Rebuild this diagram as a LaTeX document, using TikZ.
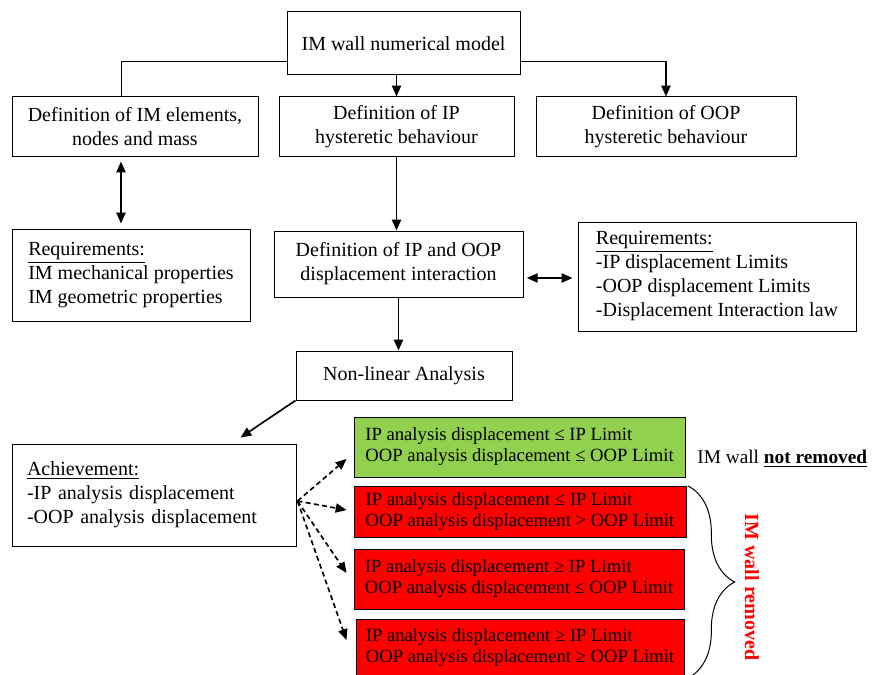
\documentclass[tikz,border=0pt]{standalone}
\usepackage{fontspec}
\setmainfont{Liberation Serif}
\usetikzlibrary{arrows.meta,calc,decorations.pathreplacing}
\definecolor{keepgreen}{HTML}{92D050}
\definecolor{dropred}{HTML}{FF0000}
\begin{document}
\begin{tikzpicture}[x=0.6pt, y=-0.6pt,
    every node/.style={font=\fontsize{12}{14.4}\selectfont},
    box/.style 2 args={draw, line width=0.6pt, minimum width=#1, minimum height=#2, align=center},
    case/.style={font=\fontsize{11.2}{12.6}\selectfont, align=left},
    arr/.style={-{Triangle[length=6.5pt,width=5.5pt]}, line width=1pt},
    darr/.style={{Triangle[length=6.5pt,width=5.5pt]}-{Triangle[length=6.5pt,width=5.5pt]}, line width=1pt},
    dasharr/.style={arr, dash pattern=on 3pt off 2pt}]
    \useasboundingbox (0,0) rectangle (872,675);

    % Model and the three definitions
    \node[box={139.8pt}{37.8pt}] (model) at (403.5,43.5) {IM wall numerical model};
    \node[box={147.6pt}{35.4pt}] (defim) at (135,126.5) {Definition of IM elements,\\nodes and mass};
    \node[box={141pt}{35.4pt}] (defip) at (396.5,126.5) {Definition of IP\\hysteretic behaviour};
    \node[box={156pt}{35.4pt}] (defoop) at (666,126.5) {Definition of OOP\\hysteretic behaviour};

    % Requirements and interaction
    \node[box={142.8pt}{55.2pt}, align=left] (reqim) at (131,275) {\underline{Requirements:}\\IM mechanical properties\\IM geometric properties};
    \node[box={149.4pt}{39.6pt}] (inter) at (398.5,264) {Definition of IP and OOP\\displacement interaction};
    \node[box={166.8pt}{65.4pt}, align=left] (reqlim) at (717,276.5) {\underline{Requirements:}\\-IP displacement Limits\\-OOP displacement Limits\\-Displacement Interaction law};

    % Analysis and what it gives
    \node[box={129.6pt}{29.4pt}] (nonlin) at (404,375.5) {Non-linear Analysis};
    \node[box={170.4pt}{61.2pt}, align=left, text width=152.4pt] (achieve) at (154,495) {\underline{Achievement:}\\-IP analysis displacement\\-OOP analysis displacement};

    % The four cases
    \node[box={198.6pt}{36pt}, case, fill=keepgreen] (caseA) at (519.5,447) {IP analysis displacement ≤ IP Limit\\OOP analysis displacement ≤ OOP Limit};
    \node[box={199.2pt}{30.6pt}, case, fill=dropred] (caseB) at (520,511.5) {IP analysis displacement ≤ IP Limit\\OOP analysis displacement > OOP Limit};
    \node[box={198pt}{36pt}, case, fill=dropred] (caseC) at (519,579) {IP analysis displacement ≥ IP Limit\\OOP analysis displacement ≤ OOP Limit};
    \node[box={196.8pt}{34.8pt}, case, fill=dropred] (caseD) at (520,648) {IP analysis displacement ≥ IP Limit\\OOP analysis displacement ≥ OOP Limit};

    % Outcomes
    \node[anchor=west, inner sep=0pt, font=\fontsize{11.6}{14}\selectfont] (kept) at (697,459) {IM wall \underline{\textbf{not removed}}};
    \coordinate (brtop) at (688,486);
    \coordinate (brbot) at (688,678);
    \draw[line width=0.6pt, decorate, decoration={brace, amplitude=28pt}] (brtop) -- (brbot);
    \node[rotate=-90, text=dropred, font=\fontsize{12}{14.4}\selectfont\bfseries] (removed) at (752,587) {IM wall removed};

    % Connectors
    \coordinate (lx) at (121,0);
    \draw[line width=0.6pt] ($(model.south west)+(0,-14)$) -| (lx |- defim.north);
    \draw[arr] (defip.north |- model.south) -- (defip.north);
    \draw[arr] ($(model.south east)+(0,-14)$) -| (defoop.north);
    \draw[darr, shorten <=3pt, shorten >=3pt] (lx |- defim.south) -- (lx |- reqim.north);
    \draw[arr] (defip.south) -- (defip.south |- inter.north);
    \coordinate (ia) at ($(inter.east)+(0,14)$);
    \draw[darr, shorten <=2pt, shorten >=3pt] (ia) -- (ia -| reqlim.west);
    \draw[arr] (inter.south) -- (inter.south |- nonlin.north);
    \draw[arr] (nonlin.south west) -- ($(achieve.north east)+(-56,-6)$);

    % Dashed fan to the cases
    \coordinate (fan) at ($(achieve.east)+(1,6)$);
    \draw[dasharr] (fan) -- ($(caseA.west)+(-7,12)$);
    \draw[dasharr] (fan) -- ($(caseB.west)+(-7,-1.5)$);
    \draw[dasharr] (fan) -- ($(caseC.west)+(-7,-6)$);
    \draw[dasharr] (fan) -- ($(caseD.west)+(-9,-8)$);
\end{tikzpicture}
\end{document}
